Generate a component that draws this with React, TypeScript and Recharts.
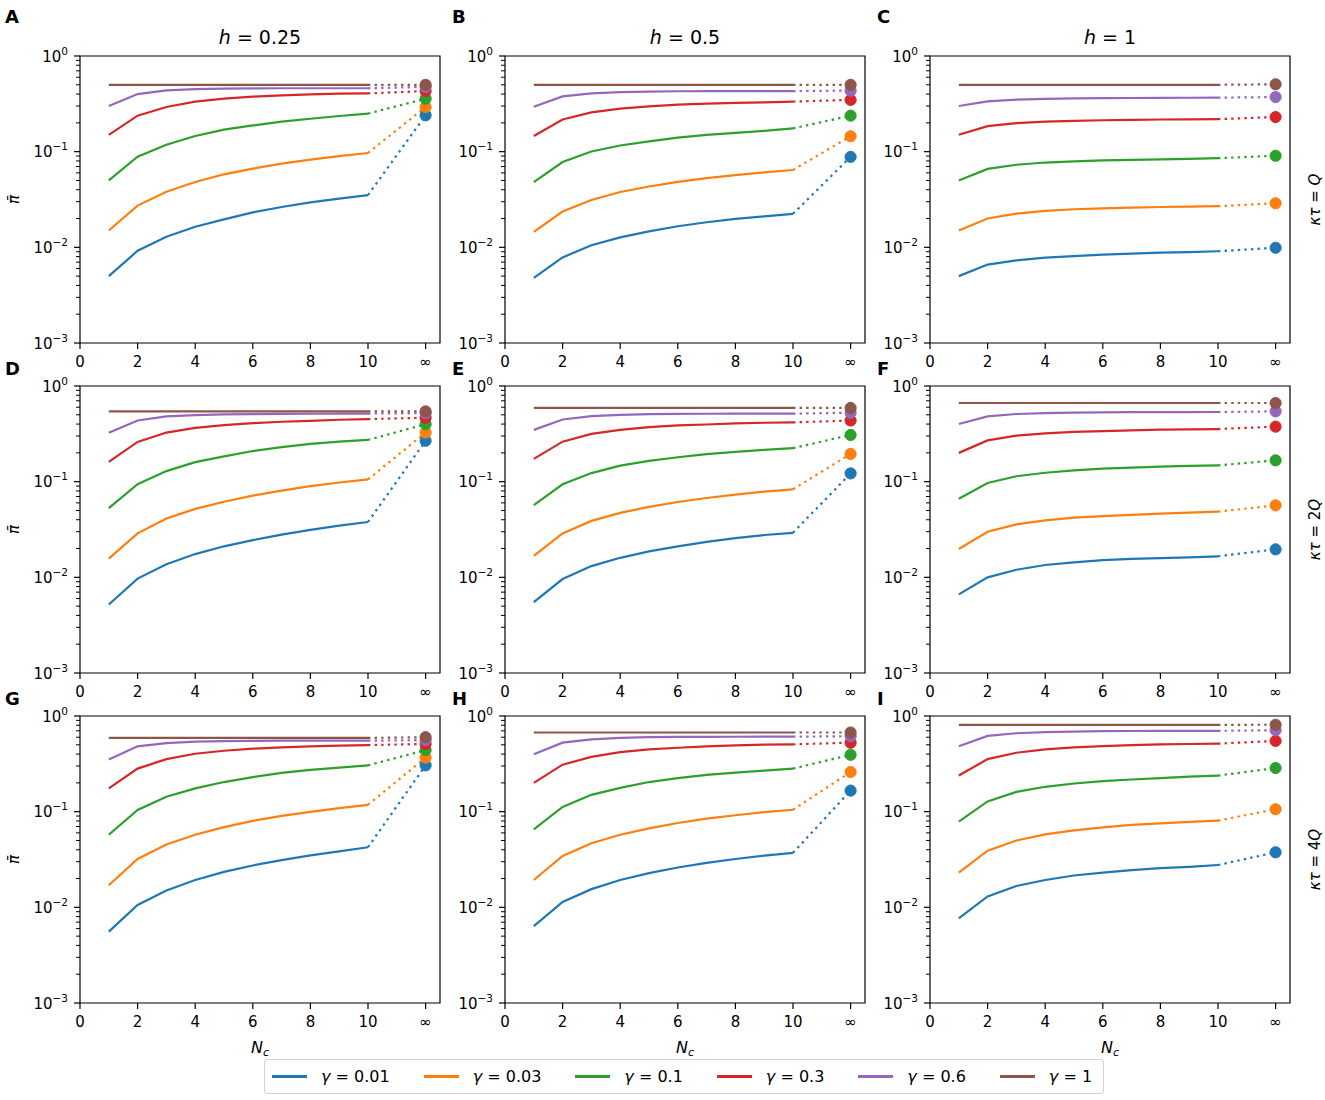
import React from "react";
import { LineChart, Line, XAxis, YAxis, ReferenceArea } from "recharts";

// tab10 colours, one per gamma
const COLORS = ["#1f77b4", "#ff7f0e", "#2ca02c", "#d62728", "#9467bd", "#8c564b"];
const gammaLabels = ["0.01", "0.03", "0.1", "0.3", "0.6", "1"];

const nc = [1, 2, 3, 4, 5, 6, 7, 8, 9, 10];
const INF_X = 12;
const xTicks = [0, 2, 4, 6, 8, 10, 12];
const xTickLabels = ["0", "2", "4", "6", "8", "10", "∞"];
const yMajorTicks = [0.001, 0.01, 0.1, 1];
const yMinorFactors = [2, 3, 4, 5, 6, 7, 8, 9];

const hLabels = ["0.25", "0.5", "1"];
const kappaLabels = ["Q", "2Q", "4Q"];
const letters = ["A", "B", "C", "D", "E", "F", "G", "H", "I"];

// mean pi for Nc = 1..10, one row per gamma; inf* holds the Nc = ∞ value
const piA = [
  [0.005, 0.0092, 0.0129, 0.0164, 0.0196, 0.0232, 0.0264, 0.0295, 0.0323, 0.0352],
  [0.015, 0.0273, 0.0382, 0.0482, 0.058, 0.0664, 0.075, 0.0824, 0.09, 0.0969],
  [0.05, 0.0887, 0.118, 0.146, 0.17, 0.188, 0.206, 0.221, 0.236, 0.25],
  [0.15, 0.238, 0.293, 0.333, 0.358, 0.376, 0.388, 0.397, 0.404, 0.407],
  [0.3, 0.4, 0.437, 0.45, 0.455, 0.458, 0.46, 0.46, 0.46, 0.46],
  [0.5, 0.5, 0.5, 0.5, 0.5, 0.5, 0.5, 0.5, 0.5, 0.5],
];
const infA = [0.24, 0.293, 0.358, 0.43, 0.475, 0.5];

const piB = [
  [0.0048, 0.00785, 0.0105, 0.0127, 0.0147, 0.0166, 0.0183, 0.0198, 0.0211, 0.0224],
  [0.0145, 0.0237, 0.0313, 0.0379, 0.0432, 0.0484, 0.053, 0.0569, 0.0607, 0.0643],
  [0.048, 0.078, 0.1005, 0.116, 0.128, 0.14, 0.15, 0.157, 0.165, 0.175],
  [0.146, 0.217, 0.257, 0.282, 0.298, 0.31, 0.318, 0.323, 0.328, 0.334],
  [0.295, 0.378, 0.406, 0.419, 0.425, 0.428, 0.43, 0.43, 0.43, 0.43],
  [0.5, 0.5, 0.5, 0.5, 0.5, 0.5, 0.5, 0.5, 0.5, 0.5],
];
const infB = [0.0883, 0.145, 0.238, 0.348, 0.435, 0.5];

const piC = [
  [0.005, 0.0066, 0.0073, 0.0078, 0.0081, 0.0084, 0.0086, 0.0088, 0.0089, 0.0091],
  [0.015, 0.02, 0.0225, 0.024, 0.025, 0.0256, 0.026, 0.0264, 0.0267, 0.0269],
  [0.05, 0.066, 0.073, 0.077, 0.079, 0.081, 0.082, 0.083, 0.084, 0.0855],
  [0.15, 0.185, 0.199, 0.206, 0.21, 0.213, 0.215, 0.217, 0.218, 0.219],
  [0.3, 0.335, 0.35, 0.357, 0.36, 0.362, 0.364, 0.365, 0.366, 0.367],
  [0.5, 0.5, 0.5, 0.5, 0.5, 0.5, 0.5, 0.5, 0.5, 0.5],
];
const infC = [0.0099, 0.0289, 0.0906, 0.23, 0.372, 0.506];

const piD = [
  [0.0052, 0.0097, 0.0137, 0.0175, 0.0211, 0.0245, 0.0279, 0.0314, 0.0347, 0.0379],
  [0.0157, 0.0288, 0.0412, 0.052, 0.0617, 0.0714, 0.0807, 0.0897, 0.098, 0.1055],
  [0.053, 0.094, 0.129, 0.16, 0.184, 0.209, 0.23, 0.248, 0.262, 0.273],
  [0.161, 0.26, 0.326, 0.365, 0.39, 0.409, 0.423, 0.433, 0.444, 0.451],
  [0.324, 0.436, 0.481, 0.497, 0.505, 0.509, 0.511, 0.513, 0.514, 0.515],
  [0.543, 0.543, 0.543, 0.543, 0.543, 0.543, 0.543, 0.543, 0.543, 0.543],
];
const infD = [0.268, 0.326, 0.399, 0.466, 0.52, 0.543];

const piE = [
  [0.0055, 0.0096, 0.0131, 0.016, 0.0187, 0.0211, 0.0235, 0.0257, 0.0277, 0.0292],
  [0.0168, 0.0288, 0.0389, 0.0472, 0.0546, 0.0613, 0.0675, 0.0733, 0.0787, 0.0832],
  [0.0569, 0.094, 0.123, 0.147, 0.165, 0.18, 0.194, 0.205, 0.215, 0.224],
  [0.173, 0.262, 0.316, 0.348, 0.371, 0.387, 0.396, 0.406, 0.413, 0.416],
  [0.348, 0.447, 0.485, 0.5, 0.507, 0.511, 0.513, 0.514, 0.514, 0.514],
  [0.59, 0.59, 0.59, 0.59, 0.59, 0.59, 0.59, 0.59, 0.59, 0.59],
];
const infE = [0.122, 0.195, 0.308, 0.436, 0.526, 0.59];

const piF = [
  [0.00664, 0.01, 0.012, 0.01345, 0.01435, 0.0151, 0.0156, 0.0159, 0.0162, 0.0166],
  [0.0198, 0.03, 0.0358, 0.0394, 0.042, 0.0437, 0.045, 0.0463, 0.0474, 0.0486],
  [0.0664, 0.097, 0.114, 0.124, 0.131, 0.137, 0.14, 0.1435, 0.146, 0.148],
  [0.2, 0.27, 0.303, 0.32, 0.331, 0.338, 0.344, 0.35, 0.352, 0.355],
  [0.401, 0.482, 0.51, 0.52, 0.526, 0.53, 0.532, 0.533, 0.534, 0.535],
  [0.664, 0.664, 0.664, 0.664, 0.664, 0.664, 0.664, 0.664, 0.664, 0.664],
];
const infF = [0.0196, 0.0566, 0.167, 0.376, 0.543, 0.664];

const piG = [
  [0.00558, 0.0106, 0.015, 0.0193, 0.0235, 0.0274, 0.0312, 0.0349, 0.0385, 0.0425],
  [0.017, 0.032, 0.0454, 0.0574, 0.069, 0.08, 0.0903, 0.0997, 0.109, 0.118],
  [0.0574, 0.104, 0.143, 0.175, 0.204, 0.23, 0.254, 0.273, 0.289, 0.305],
  [0.175, 0.282, 0.354, 0.403, 0.433, 0.455, 0.47, 0.482, 0.489, 0.497],
  [0.35, 0.482, 0.521, 0.539, 0.546, 0.55, 0.552, 0.552, 0.552, 0.552],
  [0.59, 0.59, 0.59, 0.59, 0.59, 0.59, 0.59, 0.59, 0.59, 0.59],
];
const infG = [0.305, 0.368, 0.44, 0.51, 0.56, 0.6];

const piH = [
  [0.00635, 0.0114, 0.0155, 0.0193, 0.0228, 0.0261, 0.0292, 0.032, 0.0347, 0.0371],
  [0.0193, 0.0344, 0.0468, 0.0574, 0.067, 0.0762, 0.0847, 0.0918, 0.0988, 0.1047],
  [0.0653, 0.112, 0.15, 0.177, 0.204, 0.224, 0.242, 0.256, 0.268, 0.282],
  [0.2, 0.31, 0.374, 0.419, 0.447, 0.466, 0.482, 0.493, 0.501, 0.506],
  [0.399, 0.526, 0.57, 0.59, 0.6, 0.604, 0.606, 0.607, 0.608, 0.608],
  [0.672, 0.672, 0.672, 0.672, 0.672, 0.672, 0.672, 0.672, 0.672, 0.672],
];
const infH = [0.166, 0.26, 0.393, 0.526, 0.615, 0.672];

const piI = [
  [0.00767, 0.013, 0.0167, 0.0193, 0.0215, 0.0231, 0.0245, 0.0257, 0.0265, 0.0277],
  [0.0231, 0.0391, 0.0499, 0.0578, 0.0637, 0.0686, 0.0726, 0.0756, 0.0782, 0.0807],
  [0.0787, 0.128, 0.161, 0.182, 0.197, 0.209, 0.217, 0.224, 0.232, 0.238],
  [0.239, 0.354, 0.413, 0.447, 0.47, 0.485, 0.497, 0.505, 0.51, 0.514],
  [0.482, 0.619, 0.66, 0.677, 0.688, 0.694, 0.697, 0.699, 0.7, 0.7],
  [0.809, 0.809, 0.809, 0.809, 0.809, 0.809, 0.809, 0.809, 0.809, 0.809],
];
const infI = [0.0376, 0.106, 0.286, 0.549, 0.71, 0.81];

const panelPi = [piA, piB, piC, piD, piE, piF, piG, piH, piI];
const panelInf = [infA, infB, infC, infD, infE, infF, infG, infH, infI];

// layout of the plot areas
const COL_LEFT = [80, 505, 930];
const ROW_TOP = [56, 386, 716];
const PLOT_W = 360;
const PLOT_H = 287;
const Y_AXIS_W = 60;
const X_AXIS_H = 40;
const PAD_TOP = 10;
const PAD_RIGHT = 10;
const LINE_W = 2.2;

const FONT = "DejaVu Sans, sans-serif";

const yTicks = [
  ...yMajorTicks,
  ...yMajorTicks.slice(0, 3).flatMap((d) => yMinorFactors.map((f) => d * f)),
];

function buildRows(pi: number[][], inf: number[]) {
  const rows: Record<string, number | null>[] = nc.map((n, i) => {
    const r: Record<string, number | null> = { x: n };
    pi.forEach((s, k) => {
      r[`s${k}`] = s[i];
      r[`d${k}`] = i === nc.length - 1 ? s[i] : null;
    });
    return r;
  });
  const last: Record<string, number | null> = { x: INF_X };
  inf.forEach((v, k) => {
    last[`s${k}`] = null;
    last[`d${k}`] = v;
  });
  rows.push(last);
  return rows;
}

function YTick(props: any) {
  const { x, y, payload } = props;
  const e = Math.log10(payload.value);
  const exp = Math.round(e);
  const major = Math.abs(e - exp) < 1e-6;
  return (
    <g>
      <line
        x1={x}
        x2={x - (major ? 6 : 4)}
        y1={y}
        y2={y}
        stroke="#000"
        strokeWidth={major ? 1.2 : 1}
      />
      {major && (
        <text x={x - 12} y={y + 5.5} textAnchor="end" fontSize={15} fill="#000" fontFamily={FONT}>
          10
          <tspan dy={-7} fontSize={10.5}>
            {exp === 0 ? "0" : `−${-exp}`}
          </tspan>
        </text>
      )}
    </g>
  );
}

function XTick(props: any) {
  const { x, y, payload } = props;
  const label = xTickLabels[xTicks.indexOf(payload.value)];
  return (
    <g>
      <line x1={x} x2={x} y1={y} y2={y + 6} stroke="#000" strokeWidth={1.2} />
      <text x={x} y={y + 24} textAnchor="middle" fontSize={15} fill="#000" fontFamily={FONT}>
        {label}
      </text>
    </g>
  );
}

const infDot = (color: string) => (props: any) => {
  const { cx, cy, payload, index } = props;
  if (!payload || payload.x !== INF_X || cx == null || cy == null) return <g key={`e${index}`} />;
  return <circle key={`c${index}`} cx={cx} cy={cy} r={5.6} fill={color} stroke={color} strokeWidth={1} />;
};

function Panel({ idx }: { idx: number }) {
  const rows = buildRows(panelPi[idx], panelInf[idx]);
  const col = idx % 3;
  const row = Math.floor(idx / 3);
  return (
    <div
      style={{
        position: "absolute",
        left: COL_LEFT[col] - Y_AXIS_W,
        top: ROW_TOP[row] - PAD_TOP,
      }}
    >
      <LineChart
        width={Y_AXIS_W + PLOT_W + PAD_RIGHT}
        height={PAD_TOP + PLOT_H + X_AXIS_H}
        data={rows}
        margin={{ top: PAD_TOP, right: PAD_RIGHT, bottom: 0, left: 0 }}
      >
        <XAxis
          dataKey="x"
          type="number"
          domain={[0, 12.5]}
          ticks={xTicks}
          interval={0}
          allowDataOverflow
          axisLine={false}
          tickLine={false}
          tickSize={0}
          tickMargin={0}
          height={X_AXIS_H}
          tick={<XTick />}
        />
        <YAxis
          type="number"
          scale="log"
          domain={[0.001, 1]}
          ticks={yTicks}
          interval={0}
          allowDataOverflow
          axisLine={false}
          tickLine={false}
          tickSize={0}
          tickMargin={0}
          width={Y_AXIS_W}
          tick={<YTick />}
        />
        <ReferenceArea
          x1={0}
          x2={12.5}
          y1={0.001}
          y2={1}
          fill="none"
          fillOpacity={0}
          stroke="#000"
          strokeWidth={1.2}
        />
        {COLORS.map((c, k) => (
          <Line
            key={`s${k}`}
            type="linear"
            dataKey={`s${k}`}
            stroke={c}
            strokeWidth={LINE_W}
            dot={false}
            activeDot={false}
            isAnimationActive={false}
          />
        ))}
        {COLORS.map((c, k) => (
          <Line
            key={`d${k}`}
            type="linear"
            dataKey={`d${k}`}
            stroke={c}
            strokeWidth={LINE_W}
            strokeDasharray="2.4 4.2"
            dot={infDot(c)}
            activeDot={false}
            isAnimationActive={false}
          />
        ))}
      </LineChart>
    </div>
  );
}

function Labels() {
  const letterX = [5, 452, 877];
  const letterY = [23, 375, 705];
  return (
    <svg
      width={1325}
      height={1100}
      style={{ position: "absolute", left: 0, top: 0, pointerEvents: "none" }}
      fontFamily={FONT}
    >
      {letters.map((l, i) => (
        <text
          key={l}
          x={letterX[i % 3]}
          y={letterY[Math.floor(i / 3)]}
          fontSize={18}
          fontWeight="bold"
          fill="#000"
        >
          {l}
        </text>
      ))}
      {hLabels.map((h, c) => (
        <text key={h} x={COL_LEFT[c] + PLOT_W / 2} y={44} textAnchor="middle" fontSize={19} fill="#000">
          <tspan fontStyle="italic">h</tspan> = {h}
        </text>
      ))}
      {kappaLabels.map((q, r) => {
        const cy = ROW_TOP[r] + PLOT_H / 2;
        return (
          <text
            key={q}
            x={1315}
            y={cy}
            transform={`rotate(-90 1315 ${cy})`}
            textAnchor="middle"
            dominantBaseline="central"
            fontSize={15}
            fill="#000"
          >
            <tspan fontStyle="italic">κτ</tspan> = {q.length > 1 ? q.slice(0, -1) : ""}
            <tspan fontStyle="italic">Q</tspan>
          </text>
        );
      })}
      {ROW_TOP.map((t, r) => {
        const cy = t + PLOT_H / 2;
        return (
          <text
            key={`pi${r}`}
            x={14}
            y={cy}
            transform={`rotate(-90 14 ${cy})`}
            textAnchor="middle"
            dominantBaseline="central"
            fontSize={15}
            fontStyle="italic"
            fill="#000"
          >
            π̄
          </text>
        );
      })}
      {COL_LEFT.map((l, c) => (
        <text key={`nc${c}`} x={l + PLOT_W / 2} y={1053} textAnchor="middle" fontSize={16} fill="#000">
          <tspan fontStyle="italic">N</tspan>
          <tspan fontStyle="italic" fontSize={11} dy={3}>
            c
          </tspan>
        </text>
      ))}
    </svg>
  );
}

function LegendBox() {
  return (
    <div
      style={{
        position: "absolute",
        left: 264,
        top: 1059,
        width: 840,
        height: 35,
        boxSizing: "border-box",
        border: "1px solid #d0d0d0",
        borderRadius: 3,
        background: "#fff",
        display: "flex",
        alignItems: "center",
        paddingLeft: 7,
        gap: 34,
        fontFamily: FONT,
        fontSize: 16,
        color: "#000",
      }}
    >
      {gammaLabels.map((g, k) => (
        <div key={g} style={{ display: "flex", alignItems: "center", whiteSpace: "nowrap" }}>
          <span
            style={{
              display: "inline-block",
              width: 35,
              height: 2.5,
              background: COLORS[k],
              marginRight: 14,
            }}
          />
          <span>
            <i>γ</i> = {g}
          </span>
        </div>
      ))}
    </div>
  );
}

export default function App() {
  return (
    <div
      style={{
        position: "absolute",
        left: 0,
        top: 0,
        width: 1325,
        height: 1100,
        background: "#fff",
        fontFamily: FONT,
      }}
    >
      {letters.map((_, i) => (
        <Panel key={i} idx={i} />
      ))}
      <Labels />
      <LegendBox />
    </div>
  );
}
